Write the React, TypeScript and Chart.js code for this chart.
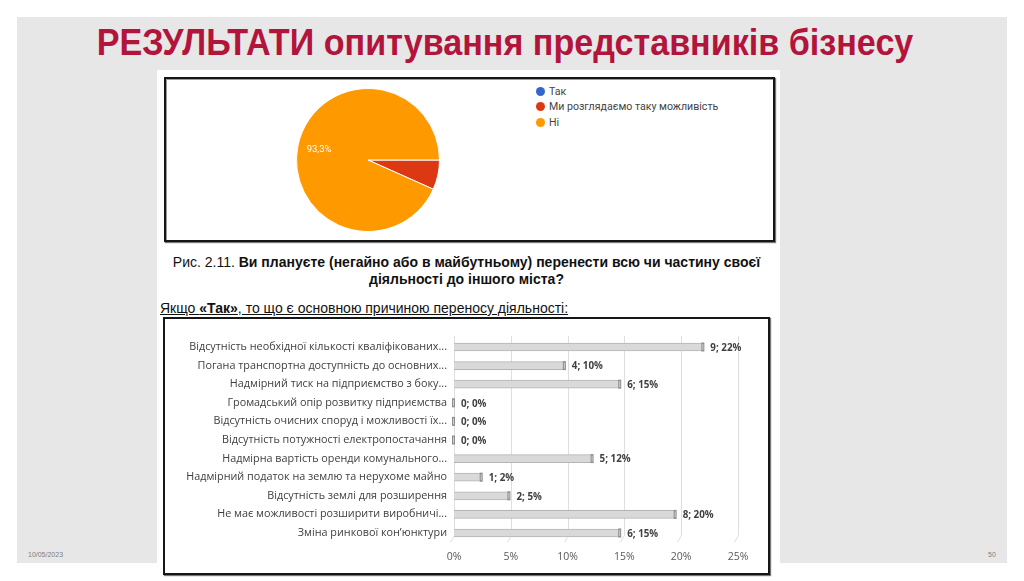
import { useEffect, useRef } from "react";
import { Chart, registerables } from "chart.js";

Chart.register(...registerables);

// ---- Pie chart data ----
const pieLabels = ["Так", "Ми розглядаємо таку можливість", "Ні"];
const pieValues = [0, 6.7, 93.3];
const pieColors = ["#3366cc", "#dc3912", "#ff9900"];

// ---- Bar chart data ----
const reasonLabels = [
  "Відсутність необхідної кількості кваліфікованих...",
  "Погана транспортна доступність до основних...",
  "Надмірний тиск на підприємство з боку...",
  "Громадський опір розвитку підприємства",
  "Відсутність очисних споруд і можливості їх...",
  "Відсутність потужності електропостачання",
  "Надмірна вартість оренди комунального...",
  "Надмірний податок на землю та нерухоме майно",
  "Відсутність землі для розширення",
  "Не має можливості розширити виробничі...",
  "Зміна ринкової кон’юнктури",
];
const reasonCounts = [9, 4, 6, 0, 0, 0, 5, 1, 2, 8, 6];
const reasonShares = [21.95, 9.76, 14.63, 0, 0, 0, 12.2, 2.44, 4.88, 19.51, 14.63];
const reasonShareLabels = ["22%", "10%", "15%", "0%", "0%", "0%", "12%", "2%", "5%", "20%", "15%"];
const xTickValues = [0, 5, 10, 15, 20, 25];

const labelFont = "'Open Sans', 'Noto Sans', sans-serif";

function PieChart() {
  const ref = useRef<HTMLCanvasElement | null>(null);
  useEffect(() => {
    if (!ref.current) return;
    const pieLabelPlugin = {
      id: "pieLabel",
      afterDatasetsDraw(chart: any) {
        const ctx = chart.ctx;
        const meta = chart.getDatasetMeta(0);
        ctx.save();
        ctx.fillStyle = "#ffffff";
        ctx.font = "9.5px Roboto, Arial, sans-serif";
        ctx.textAlign = "center";
        ctx.textBaseline = "middle";
        meta.data.forEach((arc: any, i: number) => {
          const v = pieValues[i];
          if (v < 10) return;
          const mid = (arc.startAngle + arc.endAngle) / 2;
          const r = arc.outerRadius * 0.7;
          ctx.fillText(v.toFixed(1).replace(".", ",") + "%", arc.x + Math.cos(mid) * r, arc.y + Math.sin(mid) * r);
        });
        ctx.restore();
      },
    };
    const chart = new Chart(ref.current, {
      type: "pie",
      data: {
        labels: pieLabels,
        datasets: [
          {
            data: pieValues,
            backgroundColor: pieColors,
            borderColor: "#ffffff",
            borderWidth: 1,
            hoverOffset: 0,
          },
        ],
      },
      options: {
        animation: false,
        responsive: false,
        rotation: 90,
        layout: { padding: 8 },
        plugins: { legend: { display: false }, tooltip: { enabled: false } },
      },
      plugins: [pieLabelPlugin],
    });
    return () => chart.destroy();
  }, []);
  return (
    <canvas
      ref={ref}
      width={160}
      height={160}
      style={{ position: "absolute", left: 288, top: 80, width: 160, height: 160 }}
    />
  );
}

function BarChart() {
  const ref = useRef<HTMLCanvasElement | null>(null);
  useEffect(() => {
    if (!ref.current) return;
    const gridPlugin = {
      id: "slantGrid",
      beforeDatasetsDraw(chart: any) {
        const ctx = chart.ctx;
        const xs = chart.scales.x;
        const { top, bottom } = chart.chartArea;
        ctx.save();
        ctx.strokeStyle = "#dedede";
        ctx.lineWidth = 1;
        xTickValues.forEach((v) => {
          const px = Math.round(xs.getPixelForValue(v)) + 0.5;
          ctx.beginPath();
          ctx.moveTo(px, top - 2);
          ctx.lineTo(px, bottom - 7);
          ctx.lineTo(px - 4, bottom);
          ctx.stroke();
        });
        ctx.restore();
      },
    };
    const capPlugin = {
      id: "barCaps",
      afterDatasetsDraw(chart: any) {
        const ctx = chart.ctx;
        const meta = chart.getDatasetMeta(0);
        ctx.save();
        meta.data.forEach((bar: any, i: number) => {
          const x = bar.x;
          const y = bar.y;
          const h = bar.height;
          ctx.fillStyle = "#8f8f8f";
          ctx.fillRect(x - 2, y - h / 2 - 0.5, 3, h + 1);
          ctx.fillStyle = "#cfcfcf";
          ctx.fillRect(x - 1, y - h / 2 + 1, 1, h - 2);
          ctx.fillStyle = "#404040";
          ctx.font = "bold 9.8px " + labelFont;
          ctx.textAlign = "left";
          ctx.textBaseline = "middle";
          ctx.fillText(`${reasonCounts[i]}; ${reasonShareLabels[i]}`, x + 7, y + 1);
        });
        ctx.restore();
      },
    };
    const chart = new Chart(ref.current, {
      type: "bar",
      data: {
        labels: reasonLabels,
        datasets: [
          {
            data: reasonShares,
            backgroundColor: "#d9d9d9",
            borderColor: "#b4b4b4",
            borderWidth: { top: 1, bottom: 1, left: 0, right: 0 },
            borderSkipped: false,
            barThickness: 8,
          },
        ],
      },
      options: {
        indexAxis: "y",
        animation: false,
        responsive: false,
        layout: { padding: { top: 17.7, bottom: 5.7, left: 0, right: 27 } },
        plugins: { legend: { display: false }, tooltip: { enabled: false } },
        scales: {
          x: {
            min: 0,
            max: 25,
            afterBuildTicks: (s: any) => {
              s.ticks = xTickValues.map((v) => ({ value: v }));
            },
            afterFit: (s: any) => {
              s.height = 22;
            },
            grid: { display: false, drawTicks: false },
            border: { display: false },
            ticks: {
              padding: 8,
              color: "#595959",
              font: { size: 10.5, family: labelFont },
              callback: (v: any) => v + "%",
            },
          },
          y: {
            afterFit: (s: any) => {
              s.width = 289;
            },
            grid: { display: false, drawTicks: false },
            border: { display: false },
            ticks: {
              padding: 7,
              color: "#404040",
              font: { size: 10.8, family: labelFont },
            },
          },
        },
      },
      plugins: [gridPlugin, capPlugin],
    });
    return () => chart.destroy();
  }, []);
  return (
    <canvas
      ref={ref}
      width={600}
      height={250}
      style={{ position: "absolute", left: 165, top: 320, width: 600, height: 250 }}
    />
  );
}

export default function App() {
  const arial = "'Liberation Sans', Arial, sans-serif";
  return (
    <div
      style={{
        position: "absolute",
        left: 0,
        top: 0,
        width: 1024,
        height: 581,
        background: "#ffffff",
        overflow: "hidden",
        fontFamily: arial,
      }}
    >
      {/* slide background */}
      <div style={{ position: "absolute", left: 17, top: 17, width: 990, height: 546, background: "#e7e7e7" }} />
      {/* title */}
      <div
        style={{
          position: "absolute",
          left: 10,
          width: 990,
          top: 19,
          lineHeight: "46px",
          textAlign: "center",
          color: "#b3143c",
          fontFamily: arial,
          fontWeight: "bold",
          fontSize: 37.5,
          transform: "scaleX(0.91)",
          transformOrigin: "495px 0",
          whiteSpace: "nowrap",
        }}
      >
        РЕЗУЛЬТАТИ опитування представників бізнесу
      </div>
      {/* white page */}
      <div style={{ position: "absolute", left: 157, top: 70, width: 623, height: 520, background: "#ffffff" }} />
      {/* pie box */}
      <div
        style={{
          position: "absolute",
          left: 164,
          top: 77,
          width: 607,
          height: 161,
          border: "2px solid #161616",
          boxShadow: "inset 1px 1px 0 #9a9a9a, 1px 1px 1px #777",
        }}
      />
      <PieChart />
      {/* pie legend */}
      {pieLabels.map((l, i) => (
        <div
          key={l}
          style={{
            position: "absolute",
            left: 536,
            top: 84 + i * 15.5,
            height: 14,
            display: "flex",
            alignItems: "center",
            fontFamily: "Roboto, Arial, sans-serif",
            fontSize: 10.6,
            color: "#444444",
          }}
        >
          <span
            style={{
              display: "inline-block",
              width: 9,
              height: 9,
              borderRadius: "50%",
              background: pieColors[i],
              marginRight: 4,
            }}
          />
          {l}
        </div>
      ))}
      {/* caption */}
      <div
        style={{
          position: "absolute",
          left: 155,
          width: 623,
          top: 254,
          textAlign: "center",
          fontSize: 14,
          lineHeight: "17px",
          color: "#111111",
          whiteSpace: "nowrap",
        }}
      >
        Рис. 2.11. <b>Ви плануєте (негайно або в майбутньому) перенести всю чи частину своєї</b>
        <br />
        <b>діяльності до іншого міста?</b>
      </div>
      <div
        style={{
          position: "absolute",
          left: 160,
          top: 300,
          fontSize: 14,
          lineHeight: "16px",
          color: "#111111",
          textDecoration: "underline",
          whiteSpace: "nowrap",
        }}
      >
        Якщо <b>«Так»</b>, то що є основною причиною переносу діяльності:
      </div>
      {/* bar box */}
      <div
        style={{
          position: "absolute",
          left: 163,
          top: 317,
          width: 603,
          height: 254,
          border: "2px solid #161616",
          boxShadow: "1px 1px 1px #777",
        }}
      />
      <BarChart />
      {/* footer */}
      <div style={{ position: "absolute", left: 28, top: 551, fontSize: 7, color: "#7f7f7f" }}>10/05/2023</div>
      <div style={{ position: "absolute", left: 988, top: 551, fontSize: 7, color: "#7f7f7f" }}>50</div>
    </div>
  );
}
